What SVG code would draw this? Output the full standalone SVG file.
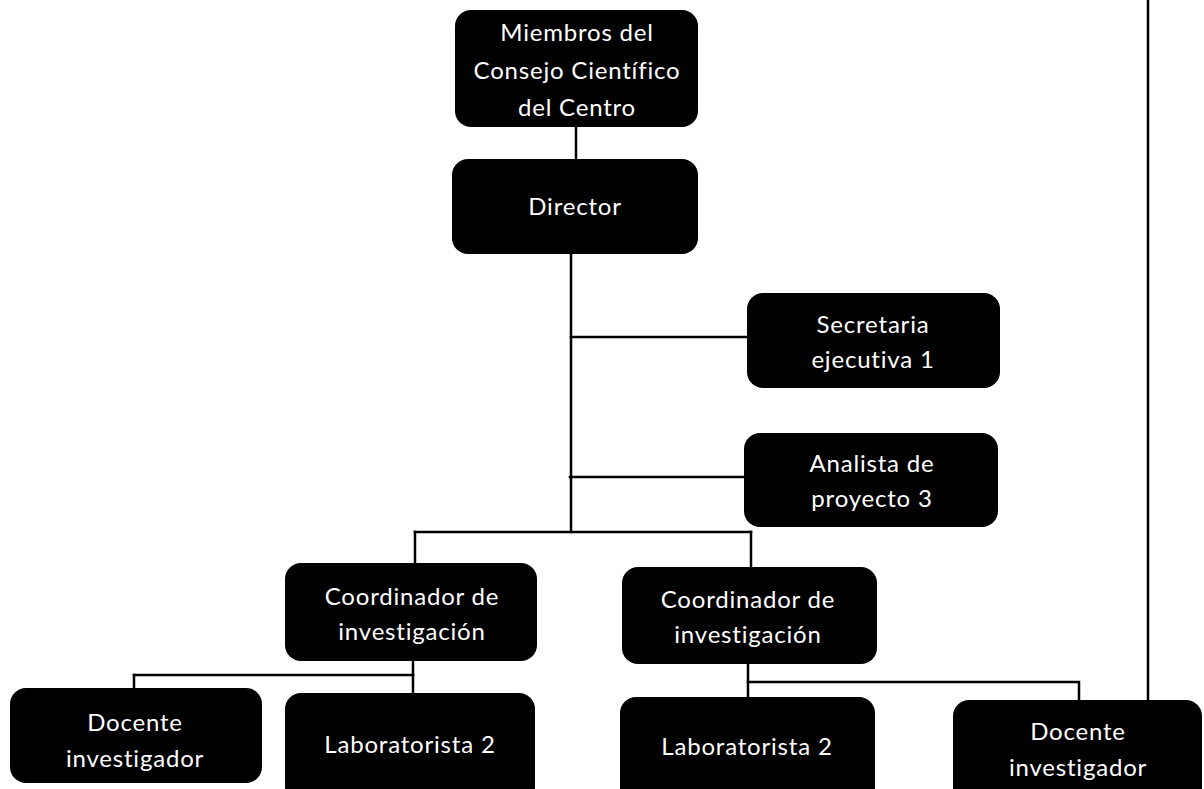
<svg xmlns="http://www.w3.org/2000/svg" width="1204" height="789" viewBox="0 0 1204 789">
  <style>
    .box { fill: #000; }
    .lbl { fill: #fff; font-family: Lato, "Liberation Sans", sans-serif; font-size: 24px; letter-spacing: 0.8px; text-anchor: middle; }
    .conn { stroke: #000; stroke-width: 2.5; fill: none; stroke-linecap: square; }
  </style>
  <rect width="1204" height="789" fill="#fff"/>
  <g id="connectors">
    <path class="conn" d="M576 127 V158"/>
    <path class="conn" d="M571 254 V532"/>
    <path class="conn" d="M571 337 H747"/>
    <path class="conn" d="M570 477 H744"/>
    <path class="conn" d="M415 532 H751"/>
    <path class="conn" d="M415 532 V563"/>
    <path class="conn" d="M751 532 V567"/>
    <path class="conn" d="M413 661 V693"/>
    <path class="conn" d="M134 675 H413"/>
    <path class="conn" d="M134 675 V689"/>
    <path class="conn" d="M748 664 V697"/>
    <path class="conn" d="M748 682 H1079 V701"/>
    <path class="conn" d="M1148 0 V701"/>
  </g>
  <g id="miembros">
    <rect class="box" x="455" y="10" width="243" height="117" rx="16"/>
    <text class="lbl" x="577" y="41">Miembros del</text>
    <text class="lbl" x="577" y="79">Consejo Científico</text>
    <text class="lbl" x="577" y="116">del Centro</text>
  </g>
  <g id="director">
    <rect class="box" x="452" y="159" width="246" height="95" rx="16"/>
    <text class="lbl" x="575" y="215">Director</text>
  </g>
  <g id="secretaria">
    <rect class="box" x="747" y="293" width="253" height="95" rx="16"/>
    <text class="lbl" x="873" y="333">Secretaria</text>
    <text class="lbl" x="873" y="368">ejecutiva 1</text>
  </g>
  <g id="analista">
    <rect class="box" x="744" y="433" width="254" height="94" rx="16"/>
    <text class="lbl" x="872" y="472">Analista de</text>
    <text class="lbl" x="872" y="507">proyecto 3</text>
  </g>
  <g id="coord1">
    <rect class="box" x="285" y="563" width="252" height="98" rx="16"/>
    <text class="lbl" x="412" y="605">Coordinador de</text>
    <text class="lbl" x="412" y="640">investigación</text>
  </g>
  <g id="coord2">
    <rect class="box" x="622" y="567" width="255" height="97" rx="16"/>
    <text class="lbl" x="748" y="608">Coordinador de</text>
    <text class="lbl" x="748" y="643">investigación</text>
  </g>
  <g id="docente1">
    <rect class="box" x="10" y="688" width="252" height="95" rx="16"/>
    <text class="lbl" x="135" y="731">Docente</text>
    <text class="lbl" x="135" y="767">investigador</text>
  </g>
  <g id="lab1">
    <rect class="box" x="285" y="693" width="250" height="110" rx="16"/>
    <text class="lbl" x="410" y="753">Laboratorista 2</text>
  </g>
  <g id="lab2">
    <rect class="box" x="620" y="697" width="255" height="110" rx="16"/>
    <text class="lbl" x="747" y="755">Laboratorista 2</text>
  </g>
  <g id="docente2">
    <rect class="box" x="953" y="700" width="249" height="110" rx="16"/>
    <text class="lbl" x="1078" y="740">Docente</text>
    <text class="lbl" x="1078" y="776">investigador</text>
  </g>
</svg>
